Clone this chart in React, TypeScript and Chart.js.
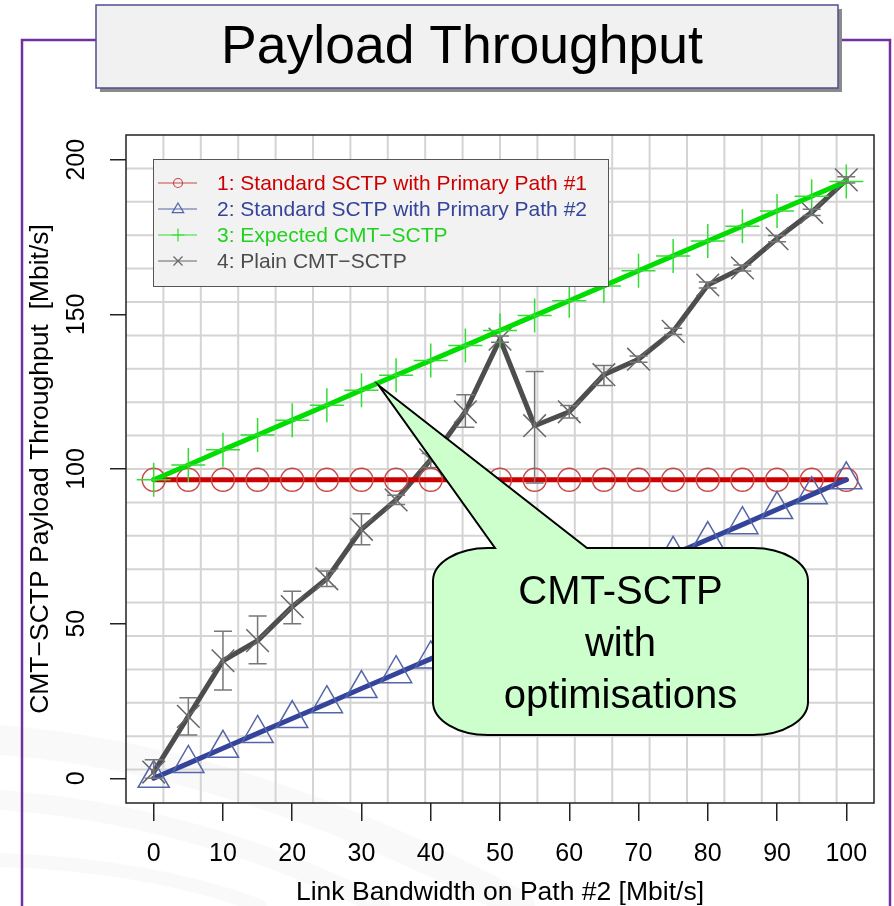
import React, { useEffect, useRef } from 'react';
import { Chart, registerables } from 'chart.js';

Chart.register(...registerables);

// ---------- data ----------
const bandwidth = [0, 5, 10, 15, 20, 25, 30, 35, 40, 45, 50, 55, 60, 65, 70, 75, 80, 85, 90, 95, 100];
const standardPath1 = [96.5, 96.5, 96.5, 96.5, 96.5, 96.5, 96.5, 96.5, 96.5, 96.5, 96.5, 96.5, 96.5, 96.5, 96.5, 96.5, 96.5, 96.5, 96.5, 96.5, 96.5];
const standardPath2 = [0, 4.8, 9.7, 14.5, 19.3, 24.1, 29.0, 33.8, 38.6, 43.4, 48.3, 53.1, 57.9, 62.7, 67.6, 72.4, 77.2, 82.0, 86.9, 91.7, 96.5];
const expectedCmt = [96.5, 101.3, 106.2, 111.0, 115.8, 120.6, 125.5, 130.3, 135.1, 139.9, 144.8, 149.6, 154.4, 159.2, 164.1, 168.9, 173.7, 178.5, 183.4, 188.2, 193.0];
const plainCmt = [2, 20, 38, 44.5, 55.5, 64.5, 80.5, 90, 103, 118.5, 142, 114, 118.5, 130.5, 135.5, 144.5, 159.5, 165, 174.5, 183, 193.5];
const plainLow = [0, 14, 28.5, 37, 50, 62, 75.5, 88.5, 100.5, 113.5, 141, 95.5, 116.5, 127, 134.5, 143.5, 158.5, 164, 173.5, 182, 192.5];
const plainHigh = [6, 26, 47.5, 52.5, 60.5, 67, 85.5, 91.5, 105, 124, 143, 131.5, 120.5, 133.5, 136.5, 145.5, 160.5, 166, 175.5, 184, 194.5];

const xTicks = [0, 10, 20, 30, 40, 50, 60, 70, 80, 90, 100];
const yTicks = [0, 50, 100, 150, 200];

const seriesLabels = [
  '1: Standard SCTP with Primary Path #1',
  '2: Standard SCTP with Primary Path #2',
  '3: Expected CMT\u2212SCTP',
  '4: Plain CMT\u2212SCTP',
];
const lineColors = ['#cc0000', '#33449a', '#00dd00', '#4d4d4d'];
const markerColors = ['#c84848', '#5565aa', '#33dd33', '#666666'];
const textColors = ['#cc0000', '#35449a', '#1ed31e', '#4d4d4d'];

const chartTitle = 'Payload Throughput';
const xTitle = 'Link Bandwidth on Path #2 [Mbit/s]';
const yTitle = 'CMT\u2212SCTP Payload Throughput  [Mbit/s]';
const calloutLines = ['CMT-SCTP', 'with', 'optimisations'];
const calloutTarget = { x: 32.5, y: 127 };

const FONT = '"Liberation Sans", Arial, Helvetica, sans-serif';

function drawMarker(ctx: CanvasRenderingContext2D, kind: number, x: number, y: number, r: number) {
  ctx.beginPath();
  if (kind === 0) {
    ctx.arc(x, y, r, 0, Math.PI * 2);
  } else if (kind === 1) {
    ctx.moveTo(x, y - r);
    ctx.lineTo(x + r * 0.95, y + r * 0.6);
    ctx.lineTo(x - r * 0.95, y + r * 0.6);
    ctx.closePath();
  } else if (kind === 2) {
    ctx.moveTo(x - r, y);
    ctx.lineTo(x + r, y);
    ctx.moveTo(x, y - r);
    ctx.lineTo(x, y + r);
  } else {
    ctx.moveTo(x - r, y - r);
    ctx.lineTo(x + r, y + r);
    ctx.moveTo(x - r, y + r);
    ctx.lineTo(x + r, y - r);
  }
  ctx.stroke();
}

const decorPlugin = {
  id: 'decor',
  beforeDraw(chart: any) {
    const ctx = chart.ctx as CanvasRenderingContext2D;
    ctx.save();
    ctx.fillStyle = '#ffffff';
    ctx.fillRect(0, 0, chart.width, chart.height);
    // very faint slide background swooshes
    ctx.lineCap = 'round';
    const bands: Array<[number, number, number, number, number, number, number]> = [
      [0, 740, 250, 760, 520, 906, 30],
      [0, 800, 200, 815, 380, 906, 20],
      [0, 860, 150, 865, 260, 906, 14],
    ];
    for (const [x0, y0, cx, cy, x1, y1, w] of bands) {
      ctx.strokeStyle = 'rgba(0,0,0,0.022)';
      ctx.lineWidth = w;
      ctx.beginPath();
      ctx.moveTo(x0, y0);
      ctx.quadraticCurveTo(cx, cy, x1, y1);
      ctx.stroke();
    }
    ctx.restore();
  },
  beforeDatasetsDraw(chart: any) {
    const ctx = chart.ctx as CanvasRenderingContext2D;
    const a = chart.chartArea;
    ctx.save();
    ctx.strokeStyle = '#d4d4d4';
    ctx.lineWidth = 2;
    const n = 20;
    for (let i = 1; i < n; i++) {
      const gx = a.left + ((a.right - a.left) * i) / n;
      const gy = a.top + ((a.bottom - a.top) * i) / n;
      ctx.beginPath();
      ctx.moveTo(gx, a.top);
      ctx.lineTo(gx, a.bottom);
      ctx.moveTo(a.left, gy);
      ctx.lineTo(a.right, gy);
      ctx.stroke();
    }
    ctx.restore();
  },
  afterDatasetsDraw(chart: any) {
    const ctx = chart.ctx as CanvasRenderingContext2D;
    const xs = chart.scales.x;
    const ys = chart.scales.y;
    ctx.save();
    ctx.strokeStyle = '#777777';
    ctx.lineWidth = 1.5;
    for (let i = 0; i < bandwidth.length; i++) {
      const px = xs.getPixelForValue(bandwidth[i]);
      const lo = ys.getPixelForValue(plainLow[i]);
      const hi = ys.getPixelForValue(plainHigh[i]);
      ctx.beginPath();
      ctx.moveTo(px, lo);
      ctx.lineTo(px, hi);
      ctx.moveTo(px - 9, lo);
      ctx.lineTo(px + 9, lo);
      ctx.moveTo(px - 9, hi);
      ctx.lineTo(px + 9, hi);
      ctx.stroke();
    }
    ctx.restore();
  },
  afterDraw(chart: any) {
    const ctx = chart.ctx as CanvasRenderingContext2D;
    const a = chart.chartArea;
    const xs = chart.scales.x;
    const ys = chart.scales.y;
    ctx.save();

    // plot box
    ctx.strokeStyle = '#222222';
    ctx.lineWidth = 1.5;
    ctx.strokeRect(a.left, a.top, a.right - a.left, a.bottom - a.top);

    // y tick labels (rotated, R style)
    ctx.fillStyle = '#000000';
    ctx.font = `25px ${FONT}`;
    ctx.textAlign = 'center';
    ctx.textBaseline = 'middle';
    for (const t of ys.ticks) {
      const py = ys.getPixelForValue(t.value);
      ctx.save();
      ctx.translate(a.left - 49, py);
      ctx.rotate(-Math.PI / 2);
      ctx.fillText(String(t.value), 0, 0);
      ctx.restore();
    }

    // legend
    const lx = a.left + 27;
    const ly = a.top + 24;
    const lw = 455;
    const lh = 127;
    ctx.fillStyle = '#f2f2f2';
    ctx.fillRect(lx, ly, lw, lh);
    ctx.strokeStyle = '#555555';
    ctx.lineWidth = 1;
    ctx.strokeRect(lx + 0.5, ly + 0.5, lw, lh);
    ctx.font = `21px ${FONT}`;
    ctx.textAlign = 'left';
    ctx.textBaseline = 'middle';
    for (let i = 0; i < 4; i++) {
      const ry = ly + 24 + i * 26;
      ctx.strokeStyle = markerColors[i];
      ctx.lineWidth = 1.2;
      ctx.beginPath();
      ctx.moveTo(lx + 5, ry);
      ctx.lineTo(lx + 44, ry);
      ctx.stroke();
      const r = i === 0 ? 4.5 : i === 1 ? 6 : i === 2 ? 6.5 : 4.5;
      drawMarker(ctx, i, lx + 25, ry, r);
      ctx.fillStyle = textColors[i];
      ctx.fillText(seriesLabels[i], lx + 64, ry + 1);
    }

    // callout bubble
    const L = 433, R = 808, T = 548, B = 735, rx = 55, ry = 33;
    const tipX = xs.getPixelForValue(calloutTarget.x);
    const tipY = ys.getPixelForValue(calloutTarget.y);
    ctx.beginPath();
    ctx.moveTo(L + rx, T);
    ctx.lineTo(L + 62, T);
    ctx.lineTo(tipX, tipY);
    ctx.lineTo(L + 154, T);
    ctx.lineTo(R - rx, T);
    ctx.ellipse(R - rx, T + ry, rx, ry, 0, -Math.PI / 2, 0);
    ctx.lineTo(R, B - ry);
    ctx.ellipse(R - rx, B - ry, rx, ry, 0, 0, Math.PI / 2);
    ctx.lineTo(L + rx, B);
    ctx.ellipse(L + rx, B - ry, rx, ry, 0, Math.PI / 2, Math.PI);
    ctx.lineTo(L, T + ry);
    ctx.ellipse(L + rx, T + ry, rx, ry, 0, Math.PI, Math.PI * 1.5);
    ctx.closePath();
    ctx.fillStyle = '#ccffcc';
    ctx.fill();
    ctx.strokeStyle = '#000000';
    ctx.lineWidth = 2;
    ctx.stroke();
    ctx.fillStyle = '#000000';
    ctx.font = `40px ${FONT}`;
    ctx.textAlign = 'center';
    ctx.textBaseline = 'middle';
    calloutLines.forEach((s, i) => ctx.fillText(s, (L + R) / 2, 593 + i * 52));

    // purple frame
    ctx.strokeStyle = '#7030a0';
    ctx.lineWidth = 2.5;
    ctx.beginPath();
    ctx.moveTo(22, chart.height);
    ctx.lineTo(22, 40);
    ctx.lineTo(120, 40);
    ctx.moveTo(800, 40);
    ctx.lineTo(890, 40);
    ctx.lineTo(890, chart.height);
    ctx.stroke();

    // title box
    ctx.fillStyle = '#8a8a8a';
    ctx.fillRect(100, 9, 742, 83);
    ctx.fillStyle = '#f1f1f1';
    ctx.fillRect(96, 5, 742, 83);
    ctx.strokeStyle = '#4f4f8f';
    ctx.lineWidth = 1.5;
    ctx.strokeRect(96, 5, 742, 83);
    ctx.fillStyle = '#000000';
    ctx.font = `53.5px ${FONT}`;
    ctx.textAlign = 'center';
    ctx.textBaseline = 'middle';
    ctx.fillText(chartTitle, 462, 48);

    ctx.restore();
  },
};

export default function App() {
  const ref = useRef<HTMLCanvasElement>(null);

  useEffect(() => {
    const canvas = ref.current;
    if (!canvas) return;
    const pts = (ys: number[]) => bandwidth.map((x, i) => ({ x, y: ys[i] }));
    const series = [standardPath1, standardPath2, expectedCmt, plainCmt];
    const styles = ['circle', 'triangle', 'cross', 'crossRot'];
    const radii = [11.5, 18, 17, 16];
    const orders = [3, 2, 1, 4];

    const chart = new Chart(canvas, {
      type: 'scatter',
      data: {
        datasets: series.map((s, i) => ({
          label: seriesLabels[i],
          data: pts(s),
          showLine: true,
          borderColor: lineColors[i],
          borderWidth: 5,
          borderCapStyle: 'round',
          borderJoinStyle: 'round',
          pointStyle: styles[i],
          pointRadius: radii[i],
          pointBorderColor: markerColors[i],
          pointBorderWidth: 1.5,
          pointBackgroundColor: 'rgba(0,0,0,0)',
          order: orders[i],
        })) as any,
      },
      options: {
        animation: false,
        responsive: false,
        devicePixelRatio: 1,
        layout: { padding: { left: 8, right: 20, top: 135, bottom: 0 } },
        plugins: {
          legend: { display: false },
          tooltip: { enabled: false },
          title: { display: false },
        },
        scales: {
          x: {
            type: 'linear',
            min: -4,
            max: 104,
            afterBuildTicks: (s: any) => {
              s.ticks = xTicks.map((v) => ({ value: v }));
            },
            afterFit: (s: any) => {
              s.height = 103;
            },
            grid: { drawOnChartArea: false, drawTicks: true, tickLength: 18, tickColor: '#222222', lineWidth: 1.5 },
            border: { display: false },
            ticks: {
              font: { family: FONT, size: 25 },
              color: '#000000',
              padding: 18,
              maxRotation: 0,
              minRotation: 0,
              autoSkip: false,
            },
            title: {
              display: true,
              text: xTitle,
              color: '#000000',
              font: { family: FONT, size: 26.5, lineHeight: 1 },
              padding: { top: 0, bottom: 0 },
            },
          },
          y: {
            type: 'linear',
            min: -8,
            max: 208,
            afterBuildTicks: (s: any) => {
              s.ticks = yTicks.map((v) => ({ value: v }));
            },
            afterFit: (s: any) => {
              s.width = 118;
            },
            grid: { drawOnChartArea: false, drawTicks: true, tickLength: 16, tickColor: '#222222', lineWidth: 1.5 },
            border: { display: false },
            ticks: { display: false },
            title: {
              display: true,
              text: yTitle,
              color: '#000000',
              font: { family: FONT, size: 26.5, lineHeight: 1 },
              padding: { top: 19, bottom: 0 },
            },
          },
        },
      } as any,
      plugins: [decorPlugin],
    });
    return () => chart.destroy();
  }, []);

  return (
    <div style={{ position: 'fixed', left: 0, top: 0, width: 894, height: 906, background: '#ffffff' }}>
      <canvas ref={ref} width={894} height={906} style={{ display: 'block' }} />
    </div>
  );
}
